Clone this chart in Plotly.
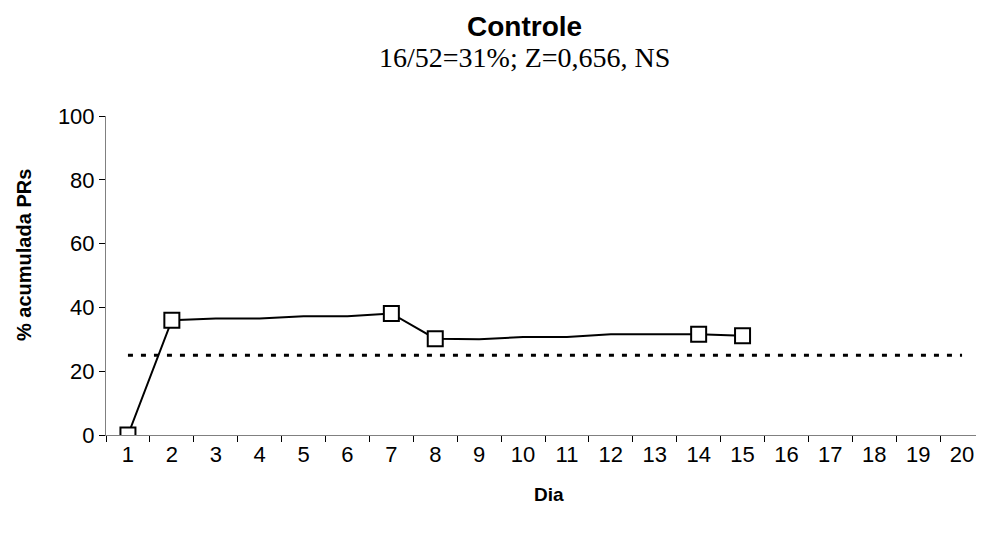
import plotly.graph_objects as go

days = [str(d) for d in range(1, 21)]
line_days = [str(d) for d in range(1, 16)]
pct = [0, 36.0, 36.5, 36.5, 37.2, 37.2, 38.1, 30.2, 30.0, 30.7, 30.7, 31.6, 31.6, 31.6, 31.1]
marker_days = ["1", "2", "7", "8", "14", "15"]
marker_pct = [pct[line_days.index(d)] for d in marker_days]
ref_days = ["1", "20"]
ref_level = [25, 25]

title = "Controle"
subtitle = "16/52=31%; Z=0,656, NS"
x_title = "Dia"
y_title = "% acumulada PRs"
y_ticks = [0, 20, 40, 60, 80, 100]

# The page body has an 8px margin, so the figure is drawn 8px smaller and
# positions below are given in screen pixels.
OFF = 8
W, H = 984 - OFF, 533 - OFF
L, R, T, B = 106 - OFF, 0, 116 - OFF, 533 - 435
PW, PH = W - L - R, H - T - B


def px(xs):
    return (xs - OFF - L) / PW


def py(ys):
    return (H - (ys - OFF) - B) / PH


fig = go.Figure()
fig.add_trace(go.Scatter(x=ref_days, y=ref_level, mode="lines",
                         line=dict(color="black", width=3, dash="5px,8px"),
                         hoverinfo="skip"))
fig.add_trace(go.Scatter(x=line_days, y=pct, mode="lines",
                         line=dict(color="black", width=2)))
fig.add_trace(go.Scatter(x=marker_days, y=marker_pct, mode="markers",
                         marker=dict(symbol="square", size=15, color="white",
                                     line=dict(color="black", width=2))))

fig.update_layout(
    width=W, height=H,
    margin=dict(l=L, r=R, t=T, b=B),
    paper_bgcolor="white", plot_bgcolor="white",
    showlegend=False,
    font=dict(family="Liberation Sans, Arial", color="black", size=22),
    annotations=[
        dict(text="<b>" + title + "</b>", x=px(524), y=py(26), xref="paper", yref="paper",
             showarrow=False, font=dict(size=28, family="Liberation Sans"),
             xanchor="center", yanchor="middle"),
        dict(text=subtitle, x=px(524), y=py(58), xref="paper", yref="paper",
             showarrow=False, font=dict(size=28, family="Liberation Serif"),
             xanchor="center", yanchor="middle"),
        dict(text="<b>" + x_title + "</b>", x=px(549), y=py(494), xref="paper", yref="paper",
             showarrow=False, font=dict(size=19, family="Liberation Sans"),
             xanchor="center", yanchor="middle"),
        dict(text="<b>" + y_title + "</b>", x=px(24), y=py(255), xref="paper", yref="paper",
             showarrow=False, textangle=-90, font=dict(size=20, family="Liberation Sans"),
             xanchor="center", yanchor="middle"),
    ],
)

fig.update_xaxes(type="category", categoryorder="array", categoryarray=days,
                 range=[-0.5, 19.5], tickson="boundaries", ticks="outside",
                 ticklen=6, tickcolor="black", showline=True, linecolor="#808080",
                 linewidth=1, showgrid=False, zeroline=False,
                 tickfont=dict(size=22))
fig.update_yaxes(range=[0, 100], tickvals=y_ticks, ticks="outside", ticklen=6,
                 tickcolor="black", showline=True, linecolor="#808080", linewidth=1,
                 showgrid=False, zeroline=False,
                 tickfont=dict(size=22))

fig.write_html("out.html")
